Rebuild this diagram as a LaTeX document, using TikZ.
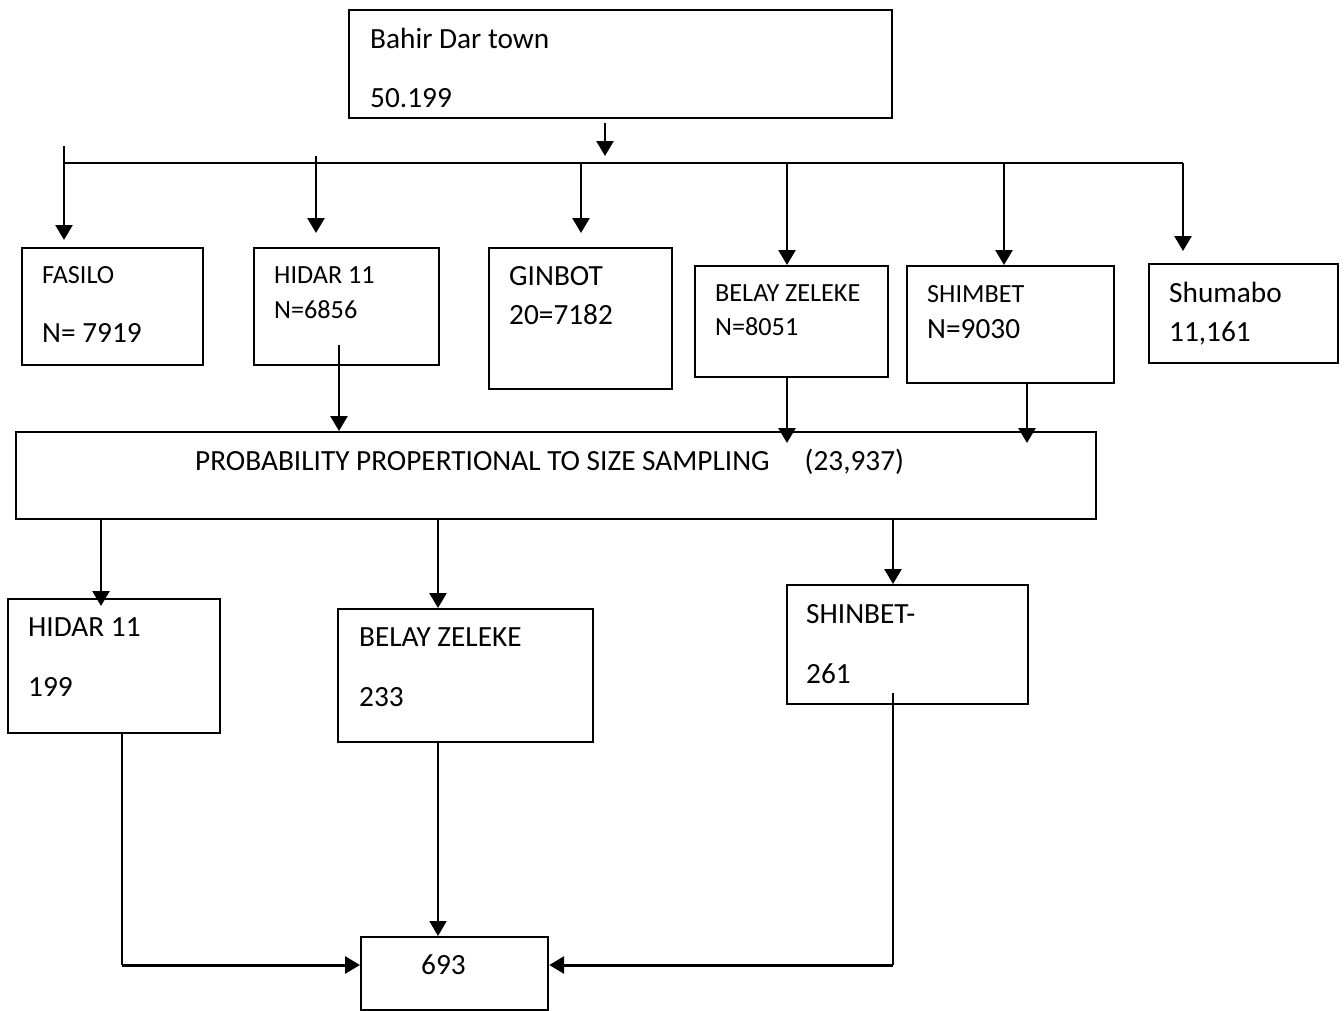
\documentclass[tikz,border=0pt]{standalone}
\usepackage{fontspec}
\setmainfont{Carlito}
\usetikzlibrary{arrows.meta}
\begin{document}
\begin{tikzpicture}[x=1pt,y=-1pt,
  box/.style={draw,line width=2.2pt,inner sep=0pt,anchor=north west},
  big/.style={anchor=base west,inner sep=0pt,font=\fontsize{29.3}{33}\selectfont},
  sml/.style={anchor=base west,inner sep=0pt,font=\fontsize{26.2}{30}\selectfont},
  ln/.style={line width=2.6pt},
  thinln/.style={line width=1.6pt},
  arr/.style={ln,-{Triangle[width=17pt,length=15pt]}},
  thinarr/.style={thinln,-{Triangle[width=17pt,length=15pt]}},
  hzarr/.style={line width=3pt,-{Triangle[width=17pt,length=15pt]}}]
\useasboundingbox[fill=white] (0,0) rectangle (1344,1010);

% ---------- boxes ----------
\node[box,minimum width=543pt,minimum height=108pt] (town) at (348,9) {};
\node[box,minimum width=181pt,minimum height=117pt] (fasilo) at (21,247) {};
\node[box,minimum width=185pt,minimum height=117pt] (hidarA) at (253,247) {};
\node[box,minimum width=183pt,minimum height=141pt] (ginbot) at (488,247) {};
\node[box,minimum width=193pt,minimum height=111pt] (belayA) at (694,265) {};
\node[box,minimum width=207pt,minimum height=117pt] (shimbet) at (906,265) {};
\node[box,minimum width=189pt,minimum height=99pt] (shumabo) at (1148,263) {};
\node[box,minimum width=1080pt,minimum height=87pt] (pps) at (15,431) {};
\node[box,minimum width=212pt,minimum height=134pt] (hidarB) at (7,598) {};
\node[box,minimum width=255pt,minimum height=133pt] (belayB) at (337,608) {};
\node[box,minimum width=241pt,minimum height=119pt] (shinbet) at (786,584) {};
\node[box,minimum width=187pt,minimum height=73pt] (total) at (360,936) {};

% ---------- texts ----------
\node[big] (t1) at (370,48) {Bahir Dar town};
\node[big] (t2) at (370,107) {50.199};
\node[sml] (t3) at (42,283) {FASILO};
\node[big] (t4) at (42,342) {N= 7919};
\node[sml] (t5) at (274,283) {HIDAR 11};
\node[sml] (t6) at (274,318) {N=6856};
\node[big] (t7) at (509,285) {GINBOT};
\node[big] (t8) at (509,324) {20=7182};
\node[sml] (t9) at (715,301) {BELAY ZELEKE};
\node[sml] (t10) at (715,335) {N=8051};
\node[sml] (t11) at (927,302) {SHIMBET};
\node[big] (t12) at (927,338) {N=9030};
\node[big] (t13) at (1169,302) {Shumabo};
\node[big] (t14) at (1169,341) {11,161};
\node[big] (t15) at (195,470) {PROBABILITY PROPERTIONAL TO SIZE SAMPLING\hspace{35pt}(23,937)};
\node[big] (t16) at (28,636) {HIDAR 11};
\node[big] (t17) at (28,696) {199};
\node[big] (t18) at (359,646) {BELAY ZELEKE};
\node[big] (t19) at (359,706) {233};
\node[big] (t20) at (806,623) {SHINBET-};
\node[big] (t21) at (806,683) {261};
\node[big] (t22) at (421,974) {693};

% ---------- bus ----------
\coordinate (busL) at (64,163);
\coordinate (busR) at (1183,163);
\draw[ln] (busL) -- (busR);
\draw[arr] (town.south -| 605,0) ++(0,4) -- (605,156);
\draw[arr] (64,146) -- ([yshift=7pt]fasilo.north -| 64,0);
\draw[arr] (316,156) -- ([yshift=14pt]hidarA.north -| 316,0);
\draw[arr] (busL -| 581,0) -- ([yshift=14pt]ginbot.north -| 581,0);
\draw[arr] (busL -| 787,0) -- (belayA.north -| 787,0);
\draw[arr] (busL -| 1004,0) -- (shimbet.north -| 1004,0);
\draw[arr] (busR) -- ([yshift=12pt]shumabo.north -| 1183,0);

% ---------- into PPS ----------
\draw[arr] (339,345) -- (pps.north -| 339,0);
\draw[arr] (belayA.south -| 787,0) -- ([yshift=-12pt]pps.north -| 787,0);
\draw[arr] (shimbet.south -| 1027,0) -- ([yshift=-12pt]pps.north -| 1027,0);

% ---------- out of PPS ----------
\draw[arr] (pps.south -| 101,0) -- ([yshift=-8pt]hidarB.north -| 101,0);
\draw[arr] (pps.south -| 438,0) -- (belayB.north -| 438,0);
\draw[arr] (pps.south -| 893,0) -- (shinbet.north -| 893,0);

% ---------- into total ----------
\coordinate (cl) at (122,965);
\coordinate (cr) at (893,965);
\draw[thinln] (hidarB.south -| 122,0) -- (cl);
\draw[hzarr] (cl) -- (total.west |- cl);
\draw[thinarr] (belayB.south -| 438,0) -- (total.north -| 438,0);
\draw[thinln] (893,693) -- (cr);
\draw[hzarr] (cr) -- (total.east |- cr);
\end{tikzpicture}
\end{document}
